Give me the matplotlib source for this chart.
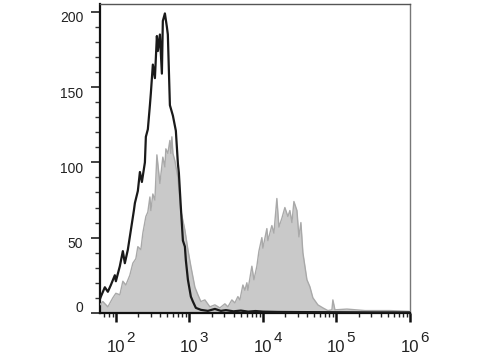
import numpy as np
import matplotlib
matplotlib.use('Agg')
import matplotlib.pyplot as plt
import matplotlib.transforms as mtransforms
from matplotlib.ticker import LogLocator, FixedLocator, MultipleLocator, NullFormatter

plt.rcParams['font.family'] = ['Liberation Sans', 'DejaVu Sans']

# log10 of fluorescence intensity, counts
black_log = [1.782, 1.796, 1.850, 1.891, 1.932, 1.986, 2.000, 2.054, 2.095, 2.122,
             2.163, 2.204, 2.245, 2.259, 2.299, 2.327, 2.354, 2.395, 2.408, 2.435,
             2.463, 2.476, 2.503, 2.531, 2.558, 2.571, 2.599, 2.626, 2.639, 2.667,
             2.694, 2.707, 2.735, 2.776, 2.816, 2.844, 2.857, 2.884, 2.912, 2.939,
             2.952, 2.980, 3.020, 3.048, 3.088, 3.156, 3.252, 3.347, 3.429, 3.497,
             3.600, 3.700, 3.800, 3.900, 4.000, 4.200, 4.500, 5.000, 5.500, 5.986]
black_cnt = [9, 10.8, 17, 14, 18.5, 25, 21, 31, 41, 33,
             42, 55, 68, 73, 81, 93.6, 87, 100, 117, 122,
             138, 146, 165, 156, 184, 174, 185, 159, 194, 199,
             190, 185, 138, 131, 121, 99, 93, 70, 48, 44,
             35, 22, 10.8, 7.5, 3.3, 2, 1.3, 2.6, 1.3, 1.8,
             1.0, 1.5, 0.8, 1.2, 0.8, 0.6, 0.5, 0.4, 0.3, 0.3]

gray_log = [1.782, 1.823, 1.891, 1.959, 2.000, 2.054, 2.095, 2.136, 2.190, 2.231,
            2.272, 2.299, 2.340, 2.367, 2.408, 2.435, 2.463, 2.476, 2.503, 2.531,
            2.558, 2.599, 2.639, 2.667, 2.680, 2.707, 2.735, 2.748, 2.762, 2.776,
            2.803, 2.844, 2.884, 2.939, 2.980, 3.020, 3.075, 3.116, 3.156, 3.211,
            3.279, 3.347, 3.415, 3.483, 3.524, 3.578, 3.619, 3.660, 3.687, 3.728,
            3.755, 3.782, 3.796, 3.850, 3.878, 3.918, 3.946, 3.986, 4.000, 4.054,
            4.068, 4.122, 4.150, 4.190, 4.218, 4.259, 4.299, 4.340, 4.367, 4.395,
            4.422, 4.463, 4.490, 4.517, 4.544, 4.599, 4.639, 4.680, 4.748, 4.816,
            4.884, 4.939, 4.952, 4.980, 5.143, 5.388, 5.728, 5.986]
gray_cnt = [5.3, 7.5, 4, 10, 13, 12, 21, 18.5, 25, 33,
            36, 44, 42, 53, 64, 67, 77, 68, 79, 75,
            105, 86, 103.5, 97, 109, 106, 114.6, 106, 117, 106,
            101, 90, 68, 55, 42, 31, 17, 12, 7.5, 8.6,
            4, 5.3, 3.3, 6, 4, 8.6, 6.6, 10.8, 8.6, 18.5,
            15, 20, 15, 31, 22, 31, 41, 50, 43, 56,
            48, 58, 53, 76, 57, 63, 70, 64, 68, 60,
            74, 68, 50.5, 60, 40, 22, 17.4, 10, 5.3, 3.3,
            1.5, 2, 8.6, 2, 2.5, 1.5, 1.5, 1]

x_decades = [2, 3, 4, 5, 6]

fig = plt.figure(figsize=(4.8, 3.6), dpi=100)
ax = fig.add_axes([0.208, 0.131, 0.646, 0.858])

gx = 10 ** np.array(gray_log)
bx = 10 ** np.array(black_log)
ax.fill_between(gx, 0, gray_cnt, color='#c9c9c9', lw=0, zorder=2)
ax.plot(gx, gray_cnt, color='#a9a9a9', lw=1.0, zorder=3)
ax.plot(bx, black_cnt, color='#1a1a1a', lw=1.6, zorder=4)

ax.set_xscale('log')
ax.set_xlim(10 ** 1.782, 1e6)
ax.set_ylim(0, 205.3)

# x labels: "10" under the tick, exponent drawn large beside it
ax.xaxis.set_major_locator(FixedLocator([10.0 ** d for d in x_decades]))
ax.set_xticklabels(['10'] * len(x_decades))
ax.xaxis.set_minor_locator(LogLocator(base=10, subs=np.arange(2, 10), numticks=20))
ax.xaxis.set_minor_formatter(NullFormatter())
for d in x_decades:
    ax.annotate(str(d), xy=(10.0 ** d, 0), xycoords=('data', 'axes fraction'),
                xytext=(7.5, -13), textcoords='offset points',
                ha='left', va='top', fontsize=11, color='#222222')

ax.yaxis.set_major_locator(MultipleLocator(50))
ax.yaxis.set_minor_locator(MultipleLocator(10))

ax.tick_params(axis='x', which='major', length=6.5, width=1.8, pad=13, labelsize=12,
               color='#111111', labelcolor='#222222')
ax.tick_params(axis='x', which='minor', length=3, width=1.0, color='#222222')
ax.tick_params(axis='y', which='major', length=6.5, width=1.2, pad=5.5, labelsize=10,
               color='#222222', labelcolor='#222222')
ax.tick_params(axis='y', which='minor', length=3.3, width=1.0, color='#333333')

fig.canvas.draw()
for lab in ax.get_yticklabels():
    dy = 6 if lab.get_text() == '0' else -5
    lab.set_transform(lab.get_transform() +
                      mtransforms.ScaledTranslation(0, dy / 100, fig.dpi_scale_trans))

for s in ['left', 'bottom']:
    ax.spines[s].set_linewidth(1.6)
    ax.spines[s].set_color('#111111')
ax.spines['top'].set_linewidth(1.0)
ax.spines['top'].set_color('#555555')
ax.spines['right'].set_linewidth(1.0)
ax.spines['right'].set_color('#777777')

fig.savefig('out.png', dpi=100)
